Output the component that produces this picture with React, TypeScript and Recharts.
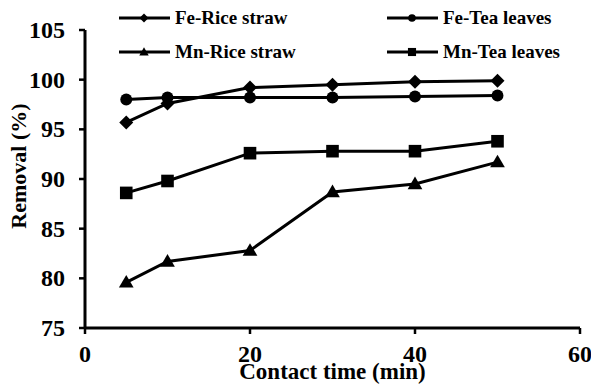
import React from 'react';
import { LineChart, Line, XAxis, YAxis } from 'recharts';

const times = [5, 10, 20, 30, 40, 50];
const feRice = [95.7, 97.6, 99.2, 99.5, 99.8, 99.9];
const feTea = [98.0, 98.2, 98.2, 98.2, 98.3, 98.4];
const mnRice = [79.6, 81.7, 82.8, 88.7, 89.5, 91.7];
const mnTea = [88.6, 89.8, 92.6, 92.8, 92.8, 93.8];
const xTicks = [0, 20, 40, 60];
const yTicks = [75, 80, 85, 90, 95, 100, 105];

const data = times.map((t, i) => ({
  time: t,
  feRice: feRice[i],
  feTea: feTea[i],
  mnRice: mnRice[i],
  mnTea: mnTea[i],
}));

const FONT = "'Liberation Serif', 'Times New Roman', Times, serif";

type Shape = 'diamond' | 'circle' | 'triangle' | 'square';

const marker = (shape: Shape, cx: number, cy: number, s: number, key?: any) => {
  if (shape === 'diamond') {
    return <polygon key={key} points={`${cx},${cy - s} ${cx + s},${cy} ${cx},${cy + s} ${cx - s},${cy}`} fill="#000" />;
  }
  if (shape === 'circle') {
    return <circle key={key} cx={cx} cy={cy} r={s * 0.85} fill="#000" />;
  }
  if (shape === 'triangle') {
    return <polygon key={key} points={`${cx},${cy - s * 1.05} ${cx + s * 1.05},${cy + s * 0.75} ${cx - s * 1.05},${cy + s * 0.75}`} fill="#000" />;
  }
  return <rect key={key} x={cx - s * 0.9} y={cy - s * 0.9} width={s * 1.8} height={s * 1.8} fill="#000" />;
};

const dotFor = (shape: Shape) => (props: any) => marker(shape, props.cx, props.cy, 7, props.key ?? `${shape}-${props.index}`);

const legendItems: { label: string; shape: Shape; x: number; y: number }[] = [
  { label: 'Fe-Rice straw', shape: 'diamond', x: 119, y: 18 },
  { label: 'Fe-Tea leaves', shape: 'circle', x: 387, y: 18 },
  { label: 'Mn-Rice straw', shape: 'triangle', x: 119, y: 52 },
  { label: 'Mn-Tea leaves', shape: 'square', x: 387, y: 52 },
];

// legend drawn as an overlay so it doesn't push the plot down
const ChartLegend = () => (
  <svg width={591} height={70} style={{ position: 'absolute', left: 0, top: 0 }}>
    {legendItems.map((it) => (
      <g key={it.label}>
        <line x1={it.x} y1={it.y} x2={it.x + 51} y2={it.y} stroke="#000" strokeWidth={3} />
        {marker(it.shape, it.x + 25, it.y, 4.5)}
        <text x={it.x + 56} y={it.y + 6} fontFamily={FONT} fontWeight="bold" fontSize={19} fill="#000">
          {it.label}
        </text>
      </g>
    ))}
  </svg>
);

const XTick = (props: any) => (
  <text x={props.x} y={props.y + 3} textAnchor="middle" dominantBaseline="hanging" fontFamily={FONT} fontWeight="bold" fontSize={24} fill="#000">
    {props.payload.value}
  </text>
);

const YTick = (props: any) => (
  <text x={props.x} y={props.y} textAnchor="end" dominantBaseline="central" fontFamily={FONT} fontWeight="bold" fontSize={24} fill="#000">
    {props.payload.value}
  </text>
);

export default function App() {
  return (
    <div style={{ position: 'absolute', left: 0, top: 0, width: 591, height: 385, background: '#fff', fontFamily: FONT }}>
      <LineChart width={591} height={385} data={data} margin={{ top: 30, right: 11, bottom: 12, left: 25 }}>
        <XAxis
          dataKey="time"
          type="number"
          domain={[0, 60]}
          ticks={xTicks}
          axisLine={{ stroke: '#000', strokeWidth: 3 }}
          tickLine={{ stroke: '#000', strokeWidth: 2.5 }}
          tickSize={6}
          tickMargin={8}
          tick={<XTick />}
          height={45}
          label={{ value: 'Contact time (min)', position: 'insideBottom', offset: -6, style: { fontFamily: FONT, fontWeight: 'bold', fontSize: 23, fill: '#000' } }}
        />
        <YAxis
          type="number"
          domain={[75, 105]}
          ticks={yTicks}
          axisLine={{ stroke: '#000', strokeWidth: 3 }}
          tickLine={{ stroke: '#000', strokeWidth: 2.5 }}
          tickSize={6}
          tickMargin={14}
          tick={<YTick />}
          width={60}
          label={{ value: 'Removal (%)', angle: -90, position: 'center', dx: -37, dy: -13, style: { fontFamily: FONT, fontWeight: 'bold', fontSize: 22, fill: '#000', textAnchor: 'middle' } }}
        />
        <Line dataKey="feRice" name="Fe-Rice straw" stroke="#000" strokeWidth={3} dot={dotFor('diamond')} isAnimationActive={false} />
        <Line dataKey="feTea" name="Fe-Tea leaves" stroke="#000" strokeWidth={3} dot={dotFor('circle')} isAnimationActive={false} />
        <Line dataKey="mnRice" name="Mn-Rice straw" stroke="#000" strokeWidth={3} dot={dotFor('triangle')} isAnimationActive={false} />
        <Line dataKey="mnTea" name="Mn-Tea leaves" stroke="#000" strokeWidth={3} dot={dotFor('square')} isAnimationActive={false} />
      </LineChart>
      <ChartLegend />
    </div>
  );
}
